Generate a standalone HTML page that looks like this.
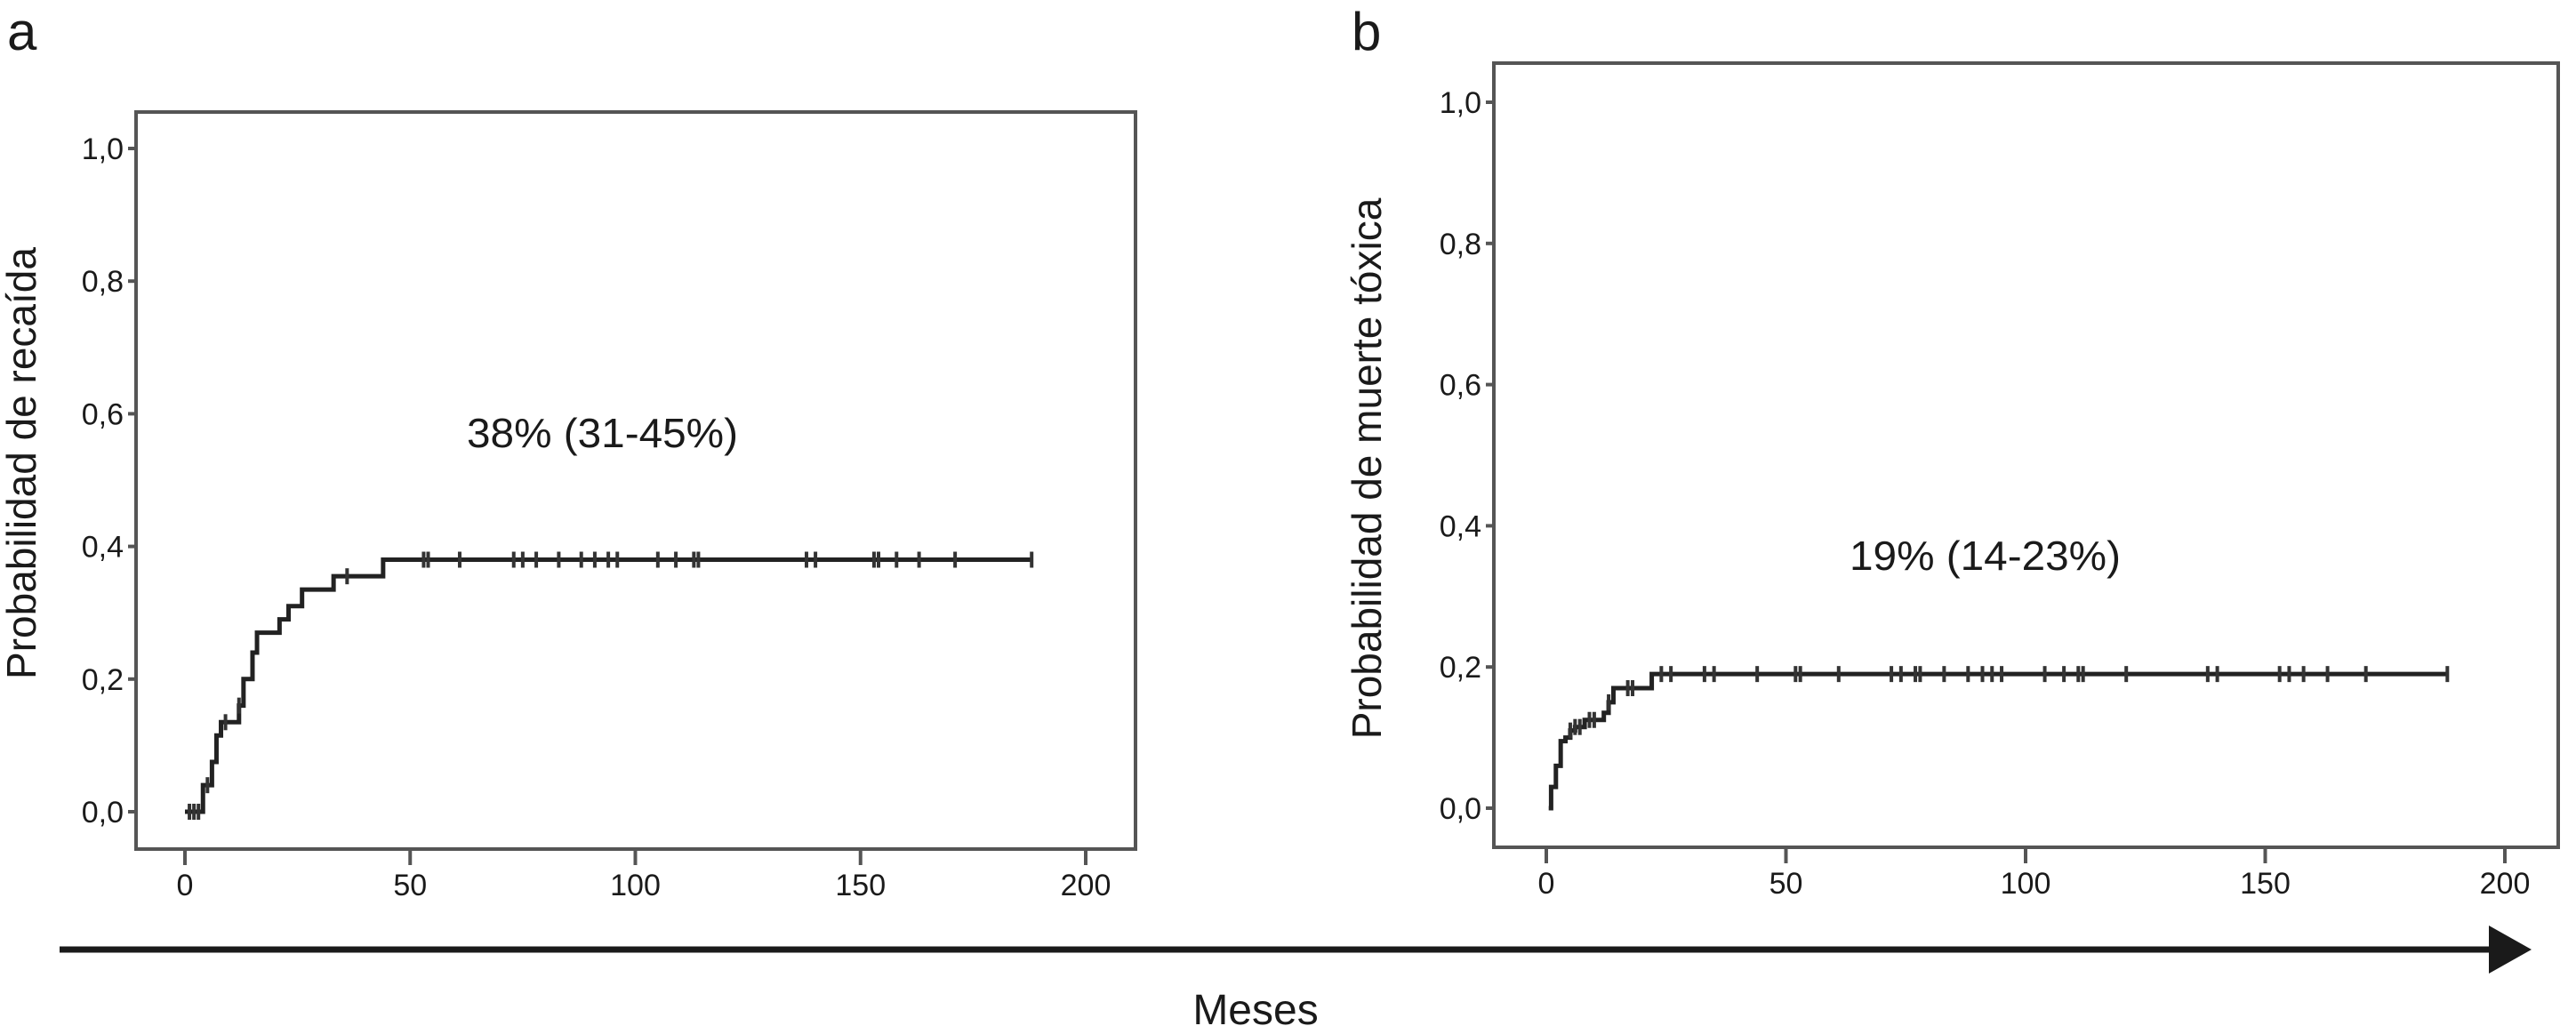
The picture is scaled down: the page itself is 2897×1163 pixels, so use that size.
<!DOCTYPE html>
<html><head><meta charset="utf-8">
<style>
html,body{margin:0;padding:0;background:#fff;}
svg{display:block;}
text{font-family:"Liberation Sans Narrow","Liberation Sans",sans-serif;fill:#1a1a1a;}
.big{font-family:"Liberation Sans",sans-serif;}
</style></head>
<body>
<svg id="chart" width="2897" height="1163" viewBox="0 0 2897 1163" xmlns="http://www.w3.org/2000/svg">
  <g id="panelA"></g>
  <g id="panelB"></g>
  <g>
    <line x1="67" y1="1068" x2="2800" y2="1068" stroke="#1a1a1a" stroke-width="7"/>
    <polygon points="2799,1041 2847,1068 2799,1095" fill="#1a1a1a"/>
  </g>
  <text class="big" x="1412" y="1152" font-size="48" text-anchor="middle">Meses</text>
</svg>
<script>
// Panel a data
const aStepTimes = [0, 4, 6, 7, 8, 12, 13, 15, 16, 21, 23, 26, 33, 44, 188];
const aStepValues = [0, 0.04, 0.075, 0.115, 0.135, 0.16, 0.20, 0.24, 0.27, 0.29, 0.31, 0.335, 0.355, 0.38, 0.38];
const aCensorTimes = [1, 2, 3, 5, 9, 12, 36, 53, 54, 61, 73, 75, 78, 83, 88, 91, 94, 96, 105, 109, 113, 114, 138, 140, 153, 154, 158, 163, 171, 188];
// Panel b data
const bStepTimes = [0.5, 1, 2, 3, 4, 5, 6, 8, 12, 13, 14, 22, 188];
const bStepValues = [0, 0.03, 0.06, 0.095, 0.10, 0.11, 0.115, 0.125, 0.135, 0.15, 0.17, 0.19, 0.19];
const bCensorTimes = [5, 6, 7, 9, 10, 13, 17, 18, 24, 26, 33, 35, 44, 52, 53, 61, 72, 74, 77, 78, 83, 88, 91, 93, 95, 104, 108, 111, 112, 121, 138, 140, 153, 155, 158, 163, 171, 188];
const xTickValues = [0, 50, 100, 150, 200];
const yTickValues = [0, 0.2, 0.4, 0.6, 0.8, 1.0];
const yTickLabels = ["0,0", "0,2", "0,4", "0,6", "0,8", "1,0"];

const NS = "http://www.w3.org/2000/svg";
function mk(parent, tag, attrs) {
  const el = document.createElementNS(NS, tag);
  for (const k in attrs) el.setAttribute(k, attrs[k]);
  parent.appendChild(el);
  return el;
}

function drawPanel(g, cfg, times, vals, cens) {
  const sx = v => cfg.x0 + (cfg.x200 - cfg.x0) * v / 200;
  const sy = v => cfg.y0 + (cfg.y1 - cfg.y0) * v;
  const fr = mk(g, "rect", {x: cfg.left, y: cfg.top, width: cfg.right - cfg.left, height: cfg.bottom - cfg.top, fill: "none", stroke: "#555", "stroke-width": 4});
  
  
  yTickValues.forEach((v, i) => {
    const t = mk(g, "line", {x1: cfg.left - 9, x2: cfg.left, y1: sy(v), y2: sy(v), stroke: "#555", "stroke-width": 4});
    
    
    const l = mk(g, "text", {x: cfg.left - 14, y: sy(v) + 12, "font-size": 34, "text-anchor": "end"});
    l.textContent = yTickLabels[i];
    
    
  });
  xTickValues.forEach(v => {
    const t = mk(g, "line", {x1: sx(v), x2: sx(v), y1: cfg.bottom, y2: cfg.bottom + 18, stroke: "#555", "stroke-width": 4});
    
    
    const l = mk(g, "text", {x: sx(v), y: cfg.bottom + 52, "font-size": 34, "text-anchor": "middle"});
    l.textContent = String(v);
    
    
  });
  let d = "M" + sx(times[0]) + "," + sy(vals[0]);
  for (let i = 1; i < times.length; i++) {
    d += " H" + sx(times[i]) + " V" + sy(vals[i]);
  }
  const p = mk(g, "path", {d: d, fill: "none", stroke: "#222", "stroke-width": 5});
  
  
  function valAt(t) {
    let v = vals[0];
    for (let i = 0; i < times.length; i++) if (times[i] <= t) v = vals[i];
    return v;
  }
  cens.forEach(t => {
    const y = sy(valAt(t));
    const c = mk(g, "line", {x1: sx(t), x2: sx(t), y1: y - 9, y2: y + 9, stroke: "#333", "stroke-width": 4});
    
    
  });
  const pl = mk(g, "text", {x: cfg.labX, y: cfg.labY, "font-size": 60, class: "big"});
  pl.textContent = cfg.letter;
  
  
  const yt = mk(g, "text", {x: 0, y: 0, "font-size": 46, class: "big", "text-anchor": "middle", transform: "translate(" + cfg.ytX + "," + cfg.ytY + ") rotate(-90)"});
  yt.textContent = cfg.ytitle;
  
  
  const an = mk(g, "text", {x: cfg.annX, y: cfg.annY, "font-size": 46, class: "big", textLength: 305, lengthAdjust: "spacingAndGlyphs"});
  an.textContent = cfg.ann;
  
  
}

drawPanel(document.getElementById("panelA"),
  {left: 153, top: 126, right: 1277, bottom: 955, x0: 208, x200: 1221, y0: 913, y1: 167,
   letter: "a", labX: 8, labY: 56, ytitle: "Probabilidad de recaída", ytX: 40, ytY: 521,
   ann: "38% (31-45%)", annX: 525, annY: 503},
  aStepTimes, aStepValues, aCensorTimes);
drawPanel(document.getElementById("panelB"),
  {left: 1680, top: 71, right: 2877, bottom: 953, x0: 1739, x200: 2817, y0: 909, y1: 115,
   letter: "b", labX: 1520, labY: 56, ytitle: "Probabilidad de muerte tóxica", ytX: 1553, ytY: 527,
   ann: "19% (14-23%)", annX: 2080, annY: 641},
  bStepTimes, bStepValues, bCensorTimes);
</script>
</body></html>
